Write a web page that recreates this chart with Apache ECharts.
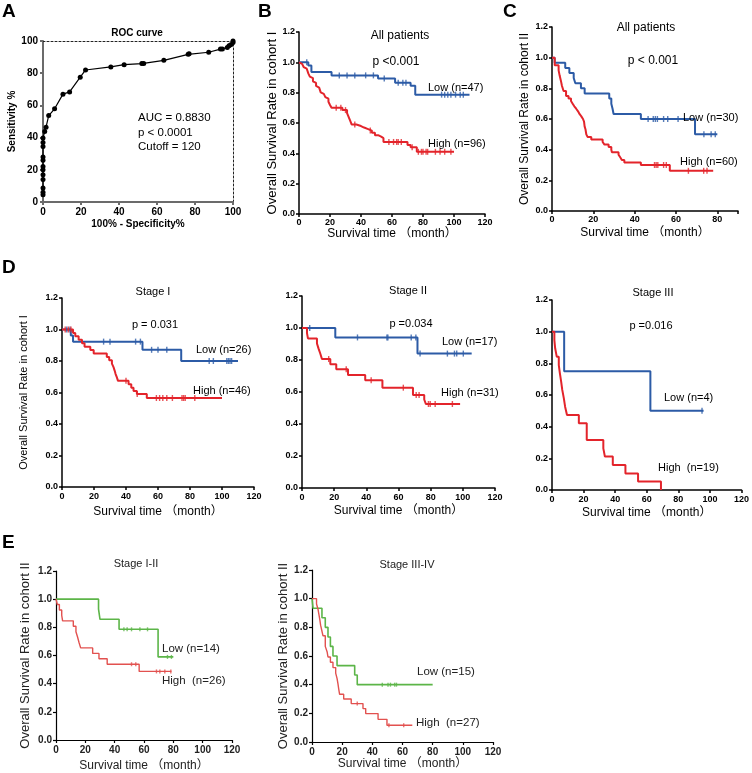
<!DOCTYPE html>
<html><head><meta charset="utf-8">
<script src="https://cdn.jsdelivr.net/npm/echarts@6/dist/echarts.min.js"></script>
<style>html,body{margin:0;padding:0;background:#fff}#c{width:752px;height:773px}</style>
</head><body><div id="c"></div>
<script>
// ---------------- DATA ----------------
// Panel A: ROC curve
const rocX = [0,0,0,0,0,0,0,0,0,0,0,0,0.9,1.6,3,6.1,10.5,14,19.6,22.4,35.7,42.7,52,53,63.6,76.4,76.9,87.2,93.4,94.4,97,97.9,98.8,100,100];
const rocY = [4.5,6,8.7,14,17,20,22,26,28,34.5,37,39.7,43.8,46.5,53.7,57.9,67,68.4,77.5,82,83.9,85.3,86,86,88,91.7,92.1,93,95,95,95.9,97,97.7,99,100];
const rocXTicks = [0,20,40,60,80,100];

// Panel B: cohort I, all patients
const bLowT = [0,6,8,21,51,62,72,75,110];
const bLowS = [1,0.979,0.936,0.914,0.893,0.866,0.846,0.787,0.787];
const bLowC = [5,26,31,36,43,48,55,64,67,69,92,94,96,98,101,104,106];
const bHighT = [0,1,2,3,4,5,6,7,8,9,10,11,12,13,14,15,16,17,18,19,20,21,28,31,32,33,34,37,40,42,44.6,47,49,51,53,54.5,70,72,76,100];
const bHighS = [1,0.99,0.979,0.969,0.958,0.948,0.927,0.906,0.896,0.875,0.864,0.844,0.833,0.823,0.802,0.792,0.781,0.771,0.760,0.740,0.719,0.70,0.685,0.665,0.64,0.615,0.59,0.58,0.57,0.56,0.55,0.535,0.52,0.51,0.50,0.475,0.455,0.44,0.41,0.41];
const bHighC = [24,27,30,36,46,58,61,63,64,66,73,77,79,80,82,83,88,91,94,98];

// Panel C: cohort II, all patients
const cLowT = [0,1.3,6.4,8.4,10.5,11.3,14,15.8,27.7,28.7,29.3,29.8,43,69.2,80];
const cLowS = [1,0.967,0.933,0.9,0.867,0.833,0.80,0.767,0.733,0.70,0.667,0.633,0.60,0.50,0.50];
const cLowC = [46.5,49,50,51,54,56,61,73.5,77,79];
const cHighT = [0,1.3,3.2,3.7,4.3,4.8,5.6,6.8,8,9.2,10,10.8,11.7,12.6,13.3,14.2,15,15.5,15.8,16.2,16.6,17.2,19,24.5,25.4,27.4,28.7,29,32.2,33,33.8,35,43,57,78];
const cHighS = [1,0.95,0.917,0.883,0.85,0.817,0.783,0.75,0.733,0.717,0.70,0.683,0.667,0.65,0.633,0.617,0.60,0.583,0.55,0.533,0.50,0.483,0.467,0.45,0.433,0.417,0.40,0.383,0.367,0.35,0.333,0.317,0.30,0.262,0.262];
const cHighC = [49.6,50.4,51.2,54,55.3,66,73.4,75];

// Panel D: cohort I by stage
const d1LowT = [0,5.5,6.9,50.3,74.5,110];
const d1LowS = [1,0.962,0.923,0.871,0.80,0.80];
const d1LowC = [3,5,26,30,46,49,56,60,65.5,92,94.6,103,104,105,106];
const d1HighT = [0,6.9,8.3,10.4,12.5,14.1,17.7,19.8,28,29.5,31.2,32.2,32.9,33.5,34.3,35,41.6,43.3,44.7,46.8,53,100];
const d1HighS = [1,0.978,0.957,0.935,0.913,0.891,0.87,0.848,0.826,0.804,0.783,0.761,0.739,0.717,0.696,0.674,0.652,0.630,0.61,0.59,0.565,0.565];
const d1HighC = [2,4,5.6,40,47,59,61,63,65.5,69,75,76,77,83];

const d2LowT = [0,20.7,71.8,105.5];
const d2LowS = [1,0.941,0.84,0.84];
const d2LowC = [4.8,34.5,52.8,53.4,67.9,70.8,73.4,90.4,94.8,96.2,100.3];
const d2HighT = [0,3.1,3.7,9.3,10.3,11.4,12.4,17.6,21.3,28.6,39.3,50,69,76,77,98.3];
const d2HighS = [1,0.968,0.935,0.903,0.871,0.839,0.806,0.774,0.742,0.707,0.673,0.627,0.582,0.553,0.525,0.525];
const d2HighC = [16.6,27.5,43,63,71,72.8,78.6,79.7,82.8,93.5];

const d3LowT = [0,7.7,62.3,96];
const d3LowS = [1,0.75,0.5,0.5];
const d3LowC = [95];
const d3HighT = [0,1.5,2,3,4.3,5,5.8,6.5,7.5,8.3,9.5,17,22,32.5,33.5,38.5,46.5,54.5,69];
const d3HighS = [1,0.947,0.895,0.842,0.789,0.737,0.684,0.632,0.579,0.526,0.474,0.421,0.316,0.263,0.211,0.158,0.105,0.053,0];
const d3HighC = [];

// Panel E: cohort II by stage
const e1LowT = [0,29,30,43,69.6,80];
const e1LowS = [1,0.929,0.857,0.786,0.59,0.59];
const e1LowC = [46.3,48.5,51.5,57.2,62.4,76,78.7];
const e1HighT = [0,0.9,2.3,3.9,4.5,11.8,13.6,14.7,15.7,16.8,25,29.3,34.9,56.7,78.7];
const e1HighS = [1,0.962,0.923,0.885,0.846,0.808,0.769,0.731,0.692,0.654,0.615,0.577,0.538,0.487,0.487];
const e1HighC = [51.5,54.4,68.5,70.8,74.2,78.3];

const e2LowT = [0,0.7,6.6,8.8,10.6,12.2,13.9,16.6,28.3,30,80];
const e2LowS = [1,0.933,0.867,0.80,0.733,0.667,0.60,0.533,0.467,0.40,0.40];
const e2LowC = [46.6,50.4,52,54.8,56];
const e2HighT = [0,3,4,4.6,5.2,5.7,6.5,7.3,8.8,10,10.6,12.2,13.9,15.7,16.6,17.2,17.7,18.3,21,26,33.8,35.6,43.8,49.7,66.5];
const e2HighS = [1,0.963,0.926,0.889,0.852,0.815,0.778,0.741,0.667,0.630,0.593,0.556,0.519,0.481,0.444,0.407,0.370,0.333,0.30,0.268,0.233,0.198,0.158,0.117,0.117];
const e2HighC = [30,51,60.8];

// ---------------- BUILD ----------------
const FF = '"Liberation Sans", Arial, "Noto Sans CJK SC", sans-serif';
const BLUE = '#2c5ba6', RED = '#e3242b', GREEN = '#5cb548', RED2 = '#e2514f';

function survAt(T, S, t) { let v = S[0]; for (let i = 0; i < T.length; i++) { if (T[i] <= t) v = S[i]; } return v; }

const grids = [], xAxes = [], yAxes = [], series = [], graphics = [];

function makeAxes(g, o) {
  const gi = grids.length;
  const lc = o.axisColor || '#000', lw = o.axisWidth || 1.5, tc = o.textColor || '#000';
  grids.push({left: g[0], top: g[1], width: g[2], height: g[3], show: false});
  xAxes.push({type: 'value', gridIndex: gi, position: 'bottom', min: 0, max: o.xmax, interval: o.xint,
    axisLine: {show: true, onZero: false, lineStyle: {color: lc, width: lw}},
    axisTick: {show: true, length: 3, lineStyle: {color: lc, width: lw}},
    splitLine: {show: false},
    axisLabel: {show: true, color: tc, fontFamily: FF, fontWeight: 'bold', fontSize: o.tickFs, margin: o.xMargin,
      formatter: v => (Math.abs(v % o.xint) < 1e-6 ? String(Math.round(v)) : '')},
    name: o.xName, nameLocation: 'middle', nameGap: o.xGap,
    nameTextStyle: {fontFamily: FF, fontSize: o.xFs, fontWeight: o.nameWeight || 'normal', color: tc}});
  yAxes.push({type: 'value', gridIndex: gi, position: 'left', min: 0, max: o.ymax, interval: o.yint,
    axisLine: {show: true, onZero: false, lineStyle: {color: lc, width: lw}},
    axisTick: {show: true, length: 3, lineStyle: {color: lc, width: lw}},
    splitLine: {show: false},
    axisLabel: {show: true, color: tc, fontFamily: FF, fontWeight: 'bold', fontSize: o.tickFs, margin: o.yMargin,
      formatter: v => (o.yDec ? v.toFixed(1) : String(Math.round(v)))},
    name: o.yName || '', nameLocation: 'middle', nameGap: o.yGap || 20,
    nameTextStyle: {fontFamily: FF, fontSize: o.yFs || 12, fontWeight: o.nameWeight || 'normal', color: tc}});
  return gi;
}

function addKM(gi, T, S, C, color, width, tickH) {
  series.push({type: 'line', xAxisIndex: gi, yAxisIndex: gi, step: 'end', symbol: 'none', silent: true,
    data: T.map((t, i) => [t, S[i]]), lineStyle: {color: color, width: width}, itemStyle: {color: color}, z: 3});
  if (C.length) series.push({type: 'scatter', xAxisIndex: gi, yAxisIndex: gi, symbol: 'rect', symbolSize: [1.4, tickH], silent: true,
    data: C.map(t => [t, survAt(T, S, t)]), itemStyle: {color: color}, z: 4});
}

function txt(x, y, s, fs, opt) {
  opt = opt || {};
  graphics.push({type: 'text', x: x, y: y, silent: true, z: 10,
    style: {text: s, fontSize: fs, fontFamily: FF, fontWeight: opt.w || 'normal', fill: opt.c || '#000',
      align: opt.a || 'left', verticalAlign: opt.v || 'middle'}});
}

const XN = 'Survival time （month）';

// A
const gA = makeAxes([43, 41, 190, 161], {xmax: 100, xint: 20, ymax: 100, yint: 20, tickFs: 10, xMargin: 5, yMargin: 5,
  axisColor: '#6b6b6b', axisWidth: 2, xName: '100% - Specificity%', xGap: 17, xFs: 10, yName: 'Sensitivity %', yGap: 25, yFs: 10, nameWeight: 'bold'});
series.push({type: 'line', xAxisIndex: gA, yAxisIndex: gA, data: rocX.map((x, i) => [x, rocY[i]]), symbol: 'circle', symbolSize: 5,
  itemStyle: {color: '#000'}, lineStyle: {color: '#000', width: 1.2}, silent: true, z: 3});

// B
const gB = makeAxes([299, 32, 186, 182], {xmax: 120, xint: 20, ymax: 1.2, yint: 0.2, yDec: true, tickFs: 9, xMargin: 4, yMargin: 4,
  xName: XN, xGap: 14, xFs: 12, yName: 'Overall Survival Rate in cohort I', yGap: 19, yFs: 13});
addKM(gB, bLowT, bLowS, bLowC, BLUE, 2, 6);
addKM(gB, bHighT, bHighS, bHighC, RED, 2, 6);

// C
const gC = makeAxes([552, 27, 186, 184], {xmax: 90, xint: 20, ymax: 1.2, yint: 0.2, yDec: true, tickFs: 9, xMargin: 4, yMargin: 4,
  xName: XN, xGap: 16, xFs: 12, yName: 'Overall Survival Rate in cohort II', yGap: 21, yFs: 12});
addKM(gC, cLowT, cLowS, cLowC, BLUE, 2, 6);
addKM(gC, cHighT, cHighS, cHighC, RED, 2, 6);

// D1
const gD1 = makeAxes([62, 298, 192, 189], {xmax: 120, xint: 20, ymax: 1.2, yint: 0.2, yDec: true, tickFs: 9, xMargin: 5, yMargin: 4,
  xName: XN, xGap: 19, xFs: 12, yName: 'Overall Survival Rate in cohort I', yGap: 33, yFs: 11});
addKM(gD1, d1LowT, d1LowS, d1LowC, BLUE, 2, 6);
addKM(gD1, d1HighT, d1HighS, d1HighC, RED, 2, 6);

// D2
const gD2 = makeAxes([302, 296, 193, 192], {xmax: 120, xint: 20, ymax: 1.2, yint: 0.2, yDec: true, tickFs: 9, xMargin: 5, yMargin: 4,
  xName: XN, xGap: 17, xFs: 12});
addKM(gD2, d2LowT, d2LowS, d2LowC, BLUE, 2, 6);
addKM(gD2, d2HighT, d2HighS, d2HighC, RED, 2, 6);

// D3
const gD3 = makeAxes([552, 300, 192, 190], {xmax: 120, xint: 20, ymax: 1.2, yint: 0.2, yDec: true, tickFs: 9, xMargin: 5, yMargin: 4,
  xName: XN, xGap: 17, xFs: 12});
addKM(gD3, d3LowT, d3LowS, d3LowC, BLUE, 2, 6);
addKM(gD3, d3HighT, d3HighS, d3HighC, RED, 2, 6);

// E1
const gE1 = makeAxes([56, 571, 176, 169], {xmax: 120, xint: 20, ymax: 1.2, yint: 0.2, yDec: true, tickFs: 10, xMargin: 5, yMargin: 4,
  axisWidth: 1.2, textColor: '#222', xName: XN, xGap: 20, xFs: 12, yName: 'Overall Survival Rate in cohort II', yGap: 24, yFs: 13});
addKM(gE1, e1LowT, e1LowS, e1LowC, GREEN, 1.6, 4);
addKM(gE1, e1HighT, e1HighS, e1HighC, RED2, 1.4, 4);

// E2
const gE2 = makeAxes([312, 570, 181, 172], {xmax: 120, xint: 20, ymax: 1.2, yint: 0.2, yDec: true, tickFs: 10, xMargin: 5, yMargin: 4,
  axisWidth: 1.2, textColor: '#222', xName: XN, xGap: 15, xFs: 12, yName: 'Overall Survival Rate in cohort II', yGap: 19, yFs: 13});
addKM(gE2, e2LowT, e2LowS, e2LowC, GREEN, 1.6, 4);
addKM(gE2, e2HighT, e2HighS, e2HighC, RED2, 1.4, 4);

// Panel A dotted frame (top and right)
xAxes.push({type: 'value', gridIndex: gA, position: 'top', min: 0, max: 100,
  axisLine: {show: true, onZero: false, lineStyle: {color: '#222', width: 1, type: [2, 2]}},
  axisTick: {show: false}, axisLabel: {show: false}, splitLine: {show: false}});
yAxes.push({type: 'value', gridIndex: gA, position: 'right', min: 0, max: 100,
  axisLine: {show: true, onZero: false, lineStyle: {color: '#222', width: 1, type: [2, 2]}},
  axisTick: {show: false}, axisLabel: {show: false}, splitLine: {show: false}});

// ---------------- TEXTS ----------------
const PL = 19;
txt(2, 12, 'A', PL, {w: 'bold'});
txt(258, 12, 'B', PL, {w: 'bold'});
txt(503, 12, 'C', PL, {w: 'bold'});
txt(2, 268, 'D', PL, {w: 'bold'});
txt(2, 543, 'E', PL, {w: 'bold'});

txt(137, 33, 'ROC curve', 10, {w: 'bold', a: 'center'});
txt(138, 118, 'AUC = 0.8830', 11.5);
txt(138, 133, 'p < 0.0001', 11.5);
txt(138, 147, 'Cutoff = 120', 11.5);

txt(400, 36, 'All patients', 12, {a: 'center'});
txt(396, 62, 'p <0.001', 12, {a: 'center'});
txt(428, 88, 'Low (n=47)', 11);
txt(428, 144, 'High (n=96)', 11);

txt(646, 28, 'All patients', 12, {a: 'center'});
txt(653, 61, 'p < 0.001', 12, {a: 'center'});
txt(683, 118, 'Low (n=30)', 11);
txt(680, 162, 'High (n=60)', 11);

txt(153, 292, 'Stage I', 11, {a: 'center'});
txt(155, 325, 'p = 0.031', 11, {a: 'center'});
txt(196, 350, 'Low (n=26)', 11);
txt(193, 391, 'High (n=46)', 11);

txt(408, 291, 'Stage II', 11, {a: 'center'});
txt(411, 324, 'p =0.034', 11, {a: 'center'});
txt(442, 342, 'Low (n=17)', 11);
txt(441, 393, 'High (n=31)', 11);

txt(653, 293, 'Stage III', 11, {a: 'center'});
txt(651, 326, 'p =0.016', 11, {a: 'center'});
txt(664, 398, 'Low (n=4)', 11);
txt(658, 468, 'High  (n=19)', 11);

txt(136, 564, 'Stage I-II', 11, {a: 'center', c: '#222'});
txt(162, 649, 'Low (n=14)', 11.5, {c: '#222'});
txt(162, 681, 'High  (n=26)', 11.5, {c: '#222'});

txt(407, 565, 'Stage III-IV', 11, {a: 'center', c: '#222'});
txt(417, 672, 'Low (n=15)', 11.5, {c: '#222'});
txt(416, 723, 'High  (n=27)', 11.5, {c: '#222'});

const chart = echarts.init(document.getElementById('c'), null, {renderer: 'canvas'});
chart.setOption({
  animation: false,
  backgroundColor: '#fff',
  grid: grids,
  xAxis: xAxes,
  yAxis: yAxes,
  series: series,
  graphic: graphics
});
</script></body></html>
